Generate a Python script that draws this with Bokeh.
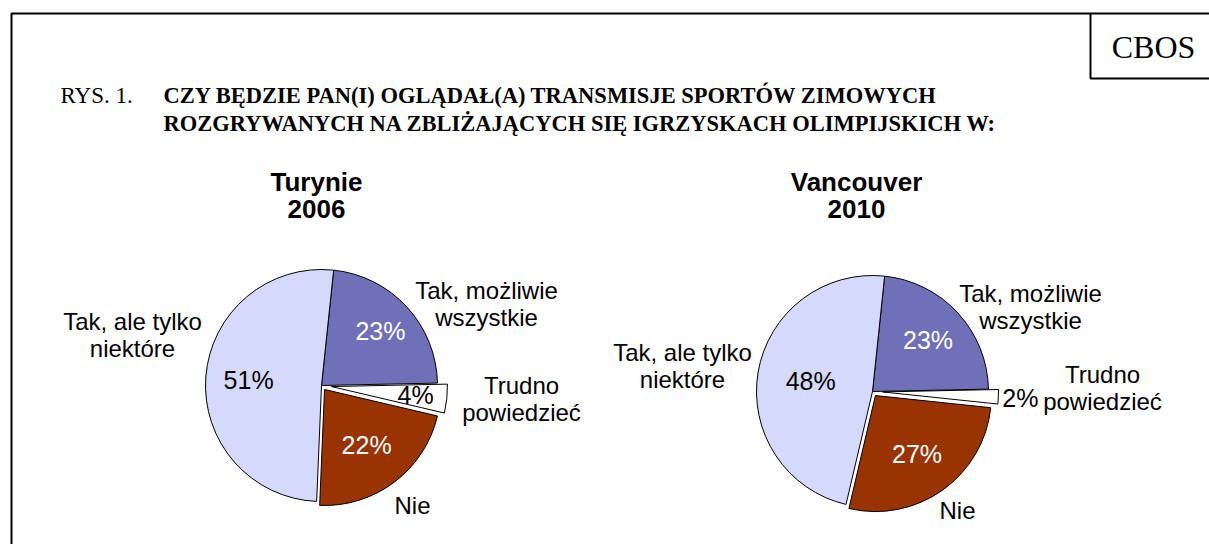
import math
from bokeh.plotting import figure
from bokeh.models import Range1d, ColumnDataSource
from bokeh.core.properties import value
from bokeh.embed import file_html
from bokeh.resources import INLINE

# ---------------- data ----------------
categories = ["Tak, możliwie wszystkie", "Trudno powiedzieć", "Nie", "Tak, ale tylko niektóre"]
turyn_values = [23, 4, 22, 51]
vanc_values = [23, 2, 27, 48]
pie_titles = [["Turynie", "2006"], ["Vancouver", "2010"]]
title_rys = "RYS. 1."
title_lines = ["CZY BĘDZIE PAN(I) OGLĄDAŁ(A) TRANSMISJE SPORTÓW ZIMOWYCH",
               "ROZGRYWANYCH NA ZBLIŻAJĄCYCH SIĘ IGRZYSKACH OLIMPIJSKICH W:"]
category_lines = [["Tak, możliwie", "wszystkie"], ["Trudno", "powiedzieć"], ["Nie"],
                  ["Tak, ale tylko", "niektóre"]]

# ---------------- style ----------------
slice_colors = ["#7070B8", "#FFFFFF", "#993300", "#D5D9FC"]
pct_colors = ["white", "black", "white", "black"]
explode = [0, 10, 5, 0]
start_deg = 84.0
radius = 116
centers = [(321, 385), (872, 391)]
label_r = [[0.69, 0.73, 0.60, 0.63], [0.65, 1.19, 0.62, 0.54]]
title_pos = [(316, 181, 208), (856, 181, 208)]
# category label anchor (center x, first line center y) per pie
cat_pos = [[(486, 290), (521, 385), (412, 505), (132, 321)],
           [(1030, 293), (1102, 374), (957, 510), (682, 352)]]
line_gap = 27

W, H = 1209, 544


def Y(sy):
    return H - sy


p = figure(width=W, height=H, output_backend="svg", toolbar_location=None,
           x_range=Range1d(0, W), y_range=Range1d(0, H), min_border=0)
p.axis.visible = False
p.grid.visible = False
p.outline_line_color = None
p.background_fill_color = "white"

# frame and CBOS box (open paths running off the page edges)
p.multi_line(xs=[[11, 11, W + 20], [1090, 1090, W + 20]],
             ys=[[Y(H + 20), Y(13), Y(13)], [Y(13), Y(78), Y(78)]],
             line_color="black", line_width=2)
p.text(x=[1153], y=[Y(46)], text=["CBOS"], text_font=value("Liberation Serif"),
       text_font_size="32px", text_align="center", text_baseline="middle", text_color="black")

# titles
p.text(x=[60], y=[Y(95)], text=[title_rys], text_font=value("Liberation Serif"),
       text_font_size="23px", text_align="left", text_baseline="middle", text_color="black")
p.text(x=[163, 163], y=[Y(95), Y(123)], text=title_lines, text_font=value("Liberation Serif"),
       text_font_size="22.5px", text_font_style="bold", text_align="left",
       text_baseline="middle", text_color="black")

for k, vals in enumerate([turyn_values, vanc_values]):
    cx, cy = centers[k]
    a0 = math.radians(start_deg)
    xs, ys, sa, ea, lx, ly = [], [], [], [], [], []
    for i, v in enumerate(vals):
        a1 = a0 - v / 100.0 * 2 * math.pi
        mid = (a0 + a1) / 2
        ox = cx + explode[i] * math.cos(mid)
        oy = Y(cy) + explode[i] * math.sin(mid)
        xs.append(ox)
        ys.append(oy)
        sa.append(a1)
        ea.append(a0)
        lx.append(ox + label_r[k][i] * radius * math.cos(mid))
        ly.append(oy + label_r[k][i] * radius * math.sin(mid))
        a0 = a1
    src = ColumnDataSource(dict(x=xs, y=ys, s=sa, e=ea, c=slice_colors,
                                lx=lx, ly=ly, t=["%d%%" % v for v in vals], tc=pct_colors))
    p.wedge(x="x", y="y", radius=radius, start_angle="s", end_angle="e",
            direction="anticlock", fill_color="c", line_color="black", line_width=1,
            source=src)
    p.text(x="lx", y="ly", text="t", text_color="tc", source=src,
           text_font=value("Liberation Sans"), text_font_size="25px",
           text_align="center", text_baseline="middle")
    # pie title
    tx, ty1, ty2 = title_pos[k]
    p.text(x=[tx, tx], y=[Y(ty1), Y(ty2)], text=pie_titles[k],
           text_font=value("Liberation Sans"), text_font_size="26px",
           text_font_style="bold", text_align="center", text_baseline="middle",
           text_color="black")
    # category labels
    for i, lines in enumerate(category_lines):
        px, py = cat_pos[k][i]
        p.text(x=[px] * len(lines), y=[Y(py + j * line_gap) for j in range(len(lines))],
               text=lines, text_font=value("Liberation Sans"), text_font_size="24px",
               text_align="center", text_baseline="middle", text_color="black")

open("out.html", "w").write(file_html(p, INLINE))
